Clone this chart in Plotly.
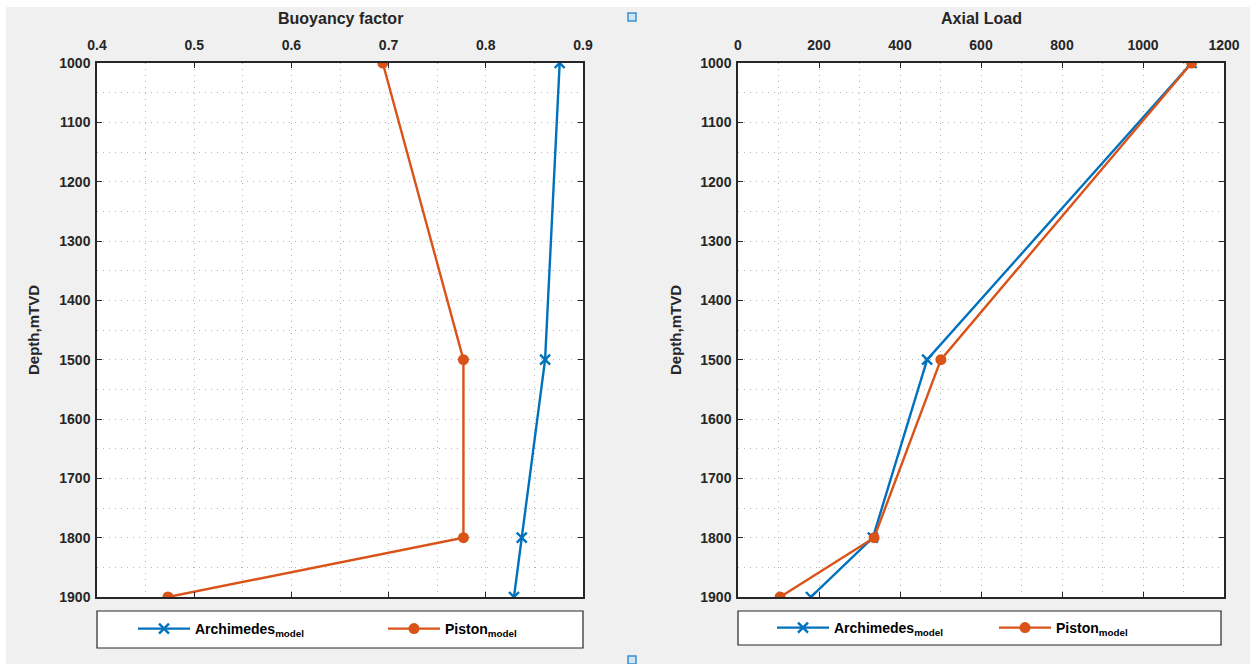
import plotly.graph_objects as go

W, H = 1250, 664

depth = [1000, 1500, 1800, 1900]
bf_archimedes = [0.876, 0.861, 0.837, 0.829]
bf_piston = [0.694, 0.777, 0.777, 0.473]
load_archimedes = [1120, 467, 333, 180]
load_piston = [1120, 501, 336, 104]

names = ["Archimedes<sub>model</sub>", "Piston<sub>model</sub>"]
BLUE = "#0072BD"
ORANGE = "#D95319"
TXT = "#262626"
FONT = "Liberation Sans"


def px_x(p):
    return p / W


def px_y(p):
    return 1 - p / H


fig = go.Figure()

# Left: buoyancy factor
fig.add_trace(go.Scatter(x=bf_archimedes, y=depth, name=names[0], mode="lines+markers",
                         line=dict(color=BLUE, width=2.4),
                         marker=dict(symbol="x-thin", size=10, line=dict(color=BLUE, width=2.4)),
                         xaxis="x", yaxis="y", legend="legend"))
fig.add_trace(go.Scatter(x=bf_piston, y=depth, name=names[1], mode="lines+markers",
                         line=dict(color=ORANGE, width=2.4),
                         marker=dict(symbol="circle", size=11, color=ORANGE),
                         xaxis="x", yaxis="y", legend="legend"))
# Right: axial load
fig.add_trace(go.Scatter(x=load_archimedes, y=depth, name=names[0], mode="lines+markers",
                         line=dict(color=BLUE, width=2.4),
                         marker=dict(symbol="x-thin", size=10, line=dict(color=BLUE, width=2.4)),
                         xaxis="x2", yaxis="y2", legend="legend2"))
fig.add_trace(go.Scatter(x=load_piston, y=depth, name=names[1], mode="lines+markers",
                         line=dict(color=ORANGE, width=2.4),
                         marker=dict(symbol="circle", size=11, color=ORANGE),
                         xaxis="x2", yaxis="y2", legend="legend2"))

tickfont = dict(family=FONT, size=14, color=TXT, weight="bold")
GRIDC = "#b4b4b4"
DOTS = "1px,5px"
grid_common = dict(showgrid=True, gridcolor=GRIDC, griddash=DOTS, gridwidth=1,
                   showline=True, linecolor=TXT, linewidth=1.5, mirror="ticks",
                   ticks="inside", ticklen=5, tickcolor=TXT, tickwidth=1.2,
                   zeroline=False, tickfont=tickfont, automargin=False)
minor_common = dict(showgrid=True, gridcolor=GRIDC, griddash=DOTS, gridwidth=1, ticks="")

ydom = [px_y(597), px_y(63)]

fig.update_layout(
    width=W, height=H,
    margin=dict(l=0, r=0, t=0, b=0),
    paper_bgcolor="#f0f0f0", plot_bgcolor="white",
    showlegend=True,
    xaxis=dict(domain=[px_x(97), px_x(583)], range=[0.4, 0.9], dtick=0.1, tick0=0.4,
               side="top", anchor="y", ticklabelstandoff=6,
               minor=dict(dtick=0.05, **minor_common),
               **grid_common),
    yaxis=dict(domain=ydom, range=[1900, 1000], dtick=100, anchor="x", ticklabelstandoff=2,
               minor=dict(dtick=50, **minor_common),
               **grid_common),
    xaxis2=dict(domain=[px_x(738), px_x(1224)], range=[0, 1200], dtick=200,
                side="top", anchor="y2", ticklabelstandoff=6,
                minor=dict(dtick=100, **minor_common),
                **grid_common),
    yaxis2=dict(domain=ydom, range=[1900, 1000], dtick=100, anchor="x2", ticklabelstandoff=2,
                minor=dict(dtick=50, **minor_common),
                **grid_common),
    legend=dict(orientation="h", x=px_x(133), y=px_y(629), xanchor="left", yanchor="middle",
                bgcolor="rgba(0,0,0,0)", borderwidth=0, itemwidth=52, entrywidth=183,
                font=dict(family=FONT, size=14, color="black", weight="bold")),
    legend2=dict(orientation="h", x=px_x(772), y=px_y(628), xanchor="left", yanchor="middle",
                 bgcolor="rgba(0,0,0,0)", borderwidth=0, itemwidth=52, entrywidth=155,
                 font=dict(family=FONT, size=14, color="black", weight="bold")),
)

shapes = [
    # white strips at top and left edge
    dict(type="rect", xref="paper", yref="paper", x0=0, x1=1, y0=px_y(7), y1=1,
         fillcolor="white", line=dict(width=0), layer="below"),
    dict(type="rect", xref="paper", yref="paper", x0=0, x1=px_x(6), y0=0, y1=1,
         fillcolor="white", line=dict(width=0), layer="below"),
    # legend boxes
    dict(type="rect", xref="paper", yref="paper", x0=px_x(97), x1=px_x(583), y0=px_y(648), y1=px_y(611),
         fillcolor="white", line=dict(color=TXT, width=1.2), layer="below"),
    dict(type="rect", xref="paper", yref="paper", x0=px_x(738), x1=px_x(1221), y0=px_y(645), y1=px_y(611),
         fillcolor="white", line=dict(color=TXT, width=1.2), layer="below"),
    # figure handles
    dict(type="rect", xref="paper", yref="paper", x0=px_x(628), x1=px_x(636), y0=px_y(21), y1=px_y(13),
         fillcolor="#cfe6f7", line=dict(color="#3b8fd0", width=1.5)),
    dict(type="rect", xref="paper", yref="paper", x0=px_x(628), x1=px_x(636), y0=px_y(664), y1=px_y(656),
         fillcolor="#cfe6f7", line=dict(color="#3b8fd0", width=1.5)),
]
fig.update_layout(shapes=shapes)

titlefont = dict(family=FONT, size=16, color=TXT, weight="bold")
annotations = [
    dict(text="Buoyancy factor", x=px_x(340), y=px_y(18), xref="paper", yref="paper",
         showarrow=False, font=titlefont, xanchor="center", yanchor="middle"),
    dict(text="Axial Load", x=px_x(981), y=px_y(18), xref="paper", yref="paper",
         showarrow=False, font=titlefont, xanchor="center", yanchor="middle"),
    dict(text="Depth,mTVD", x=px_x(33), y=px_y(330), xref="paper", yref="paper", textangle=-90,
         showarrow=False, font=dict(family=FONT, size=15, color=TXT, weight="bold"),
         xanchor="center", yanchor="middle"),
    dict(text="Depth,mTVD", x=px_x(675), y=px_y(330), xref="paper", yref="paper", textangle=-90,
         showarrow=False, font=dict(family=FONT, size=15, color=TXT, weight="bold"),
         xanchor="center", yanchor="middle"),
]
fig.update_layout(annotations=annotations)

fig.write_html("out.html")
